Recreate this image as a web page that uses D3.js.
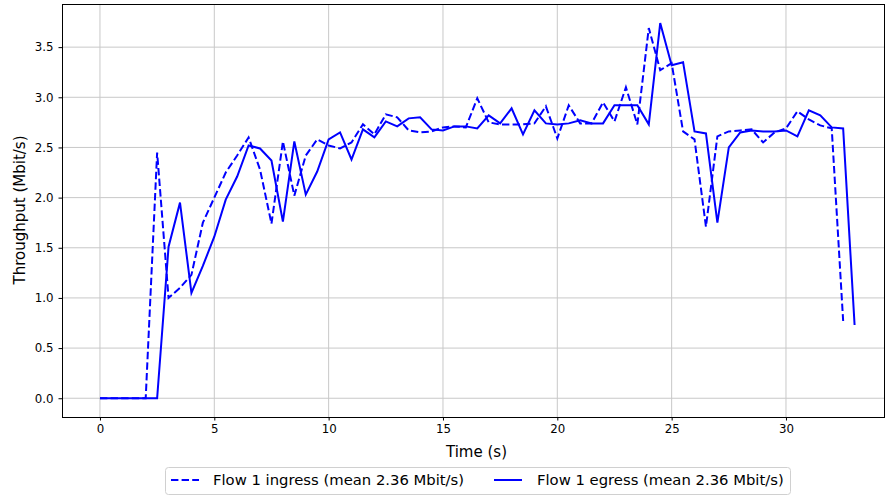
<!DOCTYPE html>
<html>
<head>
<meta charset="utf-8">
<script src="https://cdn.jsdelivr.net/npm/d3@7/dist/d3.min.js"></script>
<style>
  html, body { margin: 0; padding: 0; background: #ffffff; }
  svg { display: block; font-family: "DejaVu Sans", sans-serif; }
</style>
</head>
<body>
<svg id="chart" width="886" height="498"></svg>
<script>
// ---- data ----
const ingressTime = [0,0.5,1,1.5,2,2.5,3,3.5,4,4.5,5,5.5,6,6.5,7,7.5,8,8.5,9,9.5,10,10.5,11,11.5,12,12.5,13,13.5,14,14.5,15,15.5,16,16.5,17,17.5,18,18.5,19,19.5,20,20.5,21,21.5,22,22.5,23,23.5,24,24.5,25,25.5,26,26.5,27,27.5,28,28.5,29,29.5,30,30.5,31,31.5,32,32.5];
const ingressValues = [0,0,0,0,0,2.45,1.0,1.1,1.23,1.75,2.0,2.25,2.42,2.6,2.28,1.74,2.56,2.02,2.42,2.58,2.52,2.49,2.55,2.73,2.63,2.83,2.8,2.67,2.65,2.66,2.7,2.71,2.7,2.99,2.75,2.73,2.73,2.73,2.74,2.91,2.59,2.92,2.74,2.74,2.95,2.76,3.1,2.73,3.69,3.27,3.34,2.66,2.58,1.71,2.61,2.66,2.67,2.68,2.55,2.65,2.69,2.86,2.78,2.72,2.69,0.77];
const egressTime = [0,0.5,1,1.5,2,2.5,3,3.5,4,4.5,5,5.5,6,6.5,7,7.5,8,8.5,9,9.5,10,10.5,11,11.5,12,12.5,13,13.5,14,14.5,15,15.5,16,16.5,17,17.5,18,18.5,19,19.5,20,20.5,21,21.5,22,22.5,23,23.5,24,24.5,25,25.5,26,26.5,27,27.5,28,28.5,29,29.5,30,30.5,31,31.5,32,32.5,33];
const egressValues = [0,0,0,0,0,0,1.51,1.95,1.05,1.32,1.61,1.98,2.21,2.52,2.49,2.37,1.76,2.56,2.03,2.26,2.58,2.65,2.38,2.68,2.6,2.76,2.71,2.79,2.8,2.68,2.67,2.71,2.71,2.69,2.82,2.74,2.89,2.63,2.87,2.74,2.73,2.74,2.77,2.74,2.74,2.92,2.92,2.92,2.73,3.74,3.32,3.35,2.66,2.64,1.75,2.5,2.65,2.67,2.66,2.66,2.67,2.61,2.87,2.82,2.7,2.69,0.73];
const xTicks = [0,5,10,15,20,25,30];
const yTicks = [0,0.5,1.0,1.5,2.0,2.5,3.0,3.5];
const legendLabels = ["Flow 1 ingress (mean 2.36 Mbit/s)", "Flow 1 egress (mean 2.36 Mbit/s)"];
const xLabel = "Time (s)";
const yLabel = "Throughput (Mbit/s)";

// ---- layout ----
const L = 62, R = 885, T = 4, B = 417;
const svg = d3.select("#chart");
const x = d3.scaleLinear().domain([-1.66, 34.33]).range([L, R]);
const y = d3.scaleLinear().domain([-0.187, 3.93]).range([B, T]);
const blue = "#0000ff";

// grid
const grid = svg.append("g");
grid.selectAll("line.gx").data(xTicks).enter().append("line")
  .attr("x1", d => x(d)).attr("x2", d => x(d)).attr("y1", T).attr("y2", B)
  .attr("stroke", "#c8c8c8").attr("stroke-width", 1);
grid.selectAll("line.gy").data(yTicks).enter().append("line")
  .attr("x1", L).attr("x2", R).attr("y1", d => y(d)).attr("y2", d => y(d))
  .attr("stroke", "#c8c8c8").attr("stroke-width", 1);

// lines
svg.append("clipPath").attr("id", "clip").append("rect")
  .attr("x", L).attr("y", T).attr("width", R - L).attr("height", B - T);
const plot = svg.append("g").attr("clip-path", "url(#clip)");
const line = d3.line().x(d => x(d[0])).y(d => y(d[1]));
plot.append("path").datum(d3.zip(ingressTime, ingressValues))
  .attr("d", line).attr("fill", "none").attr("stroke", blue)
  .attr("stroke-width", 2).attr("stroke-dasharray", "7.4,3.2");
plot.append("path").datum(d3.zip(egressTime, egressValues))
  .attr("d", line).attr("fill", "none").attr("stroke", blue)
  .attr("stroke-width", 2);

// axes
const xAxis = d3.axisBottom(x).tickValues(xTicks).tickFormat(d3.format("d")).tickSizeInner(3.5).tickSizeOuter(0).tickPadding(4);
const yAxis = d3.axisLeft(y).tickValues(yTicks).tickFormat(d3.format(".1f")).tickSizeInner(3.5).tickSizeOuter(0).tickPadding(5);
const gx = svg.append("g").attr("transform", `translate(0,${B})`).call(xAxis);
const gy = svg.append("g").attr("transform", `translate(${L},0)`).call(yAxis);
[gx, gy].forEach(g => {
  g.select(".domain").remove();
  g.selectAll("text").attr("font-family", "DejaVu Sans").attr("font-size", 11.8).attr("fill", "#000");
  g.selectAll("line").attr("stroke", "#000").attr("stroke-width", 1);
});

// frame
svg.append("rect").attr("x", L + 0.5).attr("y", T + 0.5).attr("width", R - L - 1).attr("height", B - T)
  .attr("fill", "none").attr("stroke", "#000").attr("stroke-width", 1);

// axis labels
svg.append("text").attr("x", (L + R) / 2 + 3).attr("y", 457).attr("text-anchor", "middle")
  .attr("font-size", 15).attr("fill", "#000").text(xLabel);
svg.append("text").attr("transform", "translate(25,210) rotate(-90)").attr("text-anchor", "middle")
  .attr("font-size", 15).attr("fill", "#000").text(yLabel);

// legend
const lg = svg.append("g");
lg.append("rect").attr("x", 165.5).attr("y", 467.5).attr("width", 625).attr("height", 27).attr("rx", 3)
  .attr("fill", "#fff").attr("stroke", "#d0d0d0").attr("stroke-width", 1);
const items = [
  {lx: 171, tx: 213, dash: "7.4,3.2"},
  {lx: 494, tx: 537, dash: null}
];
items.forEach((it, i) => {
  const ln = lg.append("line").attr("x1", it.lx).attr("x2", it.lx + 28).attr("y1", 480).attr("y2", 480)
    .attr("stroke", blue).attr("stroke-width", 2);
  if (it.dash) ln.attr("stroke-dasharray", it.dash);
  lg.append("text").attr("x", it.tx).attr("y", 485).attr("font-size", 14.8).attr("fill", "#000").text(legendLabels[i]);
});
</script>
</body>
</html>
